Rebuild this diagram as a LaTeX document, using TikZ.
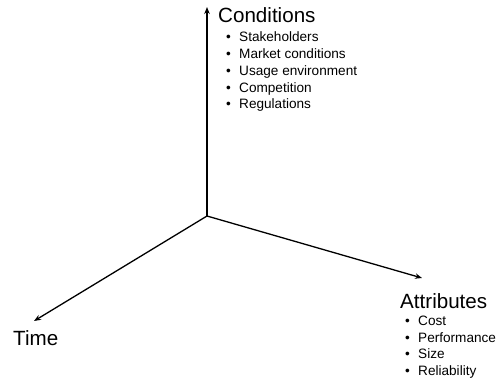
\documentclass[tikz,border=0pt]{standalone}
\usepackage{fontspec}
\setmainfont{Liberation Sans}
\usetikzlibrary{arrows.meta}
\tikzset{
  axis/.style={line width=1.3pt,-{Stealth[length=7pt,width=5.5pt]}},
  title/.style={anchor=base west,inner sep=0pt,font=\fontsize{20.6}{24}\selectfont},
  item/.style={anchor=base west,inner sep=0pt,font=\fontsize{13.6}{16}\selectfont}
}
\newcommand{\bul}[1]{\makebox[13pt][l]{\textbullet}#1}
\begin{document}
\begin{tikzpicture}[x=1pt,y=-1pt]
\useasboundingbox (0,0) rectangle (498,381);
\coordinate (o) at (207,216);
\coordinate (up) at (207,7);
\coordinate (right) at (422,278);
\coordinate (left) at (34,321);
\draw[axis] (o) -- (up);
\draw[axis] (o) -- (right);
\draw[axis] (o) -- (left);

\node[title] (cond) at (218,22) {Conditions};
\node[item] (c1) at (226,41) {\bul{Stakeholders}};
\node[item] (c2) at (226,58) {\bul{Market conditions}};
\node[item] (c3) at (226,75) {\bul{Usage environment}};
\node[item] (c4) at (226,92) {\bul{Competition}};
\node[item] (c5) at (226,108) {\bul{Regulations}};

\node[title] (attr) at (400,308) {Attributes};
\node[item] (a1) at (405,325) {\bul{Cost}};
\node[item] (a2) at (405,342) {\bul{Performance}};
\node[item] (a3) at (405,358) {\bul{Size}};
\node[item] (a4) at (405,375) {\bul{Reliability}};

\node[title] (time) at (13,345) {Time};
\end{tikzpicture}
\end{document}
